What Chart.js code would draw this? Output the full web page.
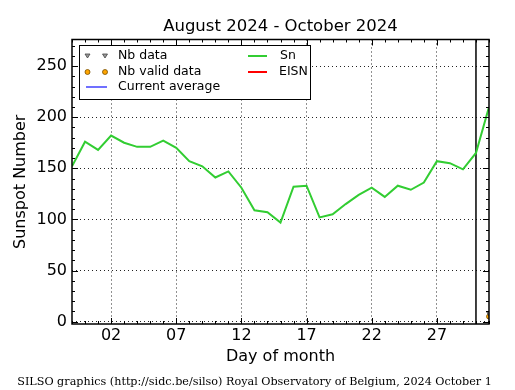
<!DOCTYPE html>
<html>
<head>
<meta charset="utf-8">
<script src="https://cdn.jsdelivr.net/npm/chart.js@4/dist/chart.umd.min.js"></script>
<style>html,body{margin:0;padding:0;background:#fff}</style>
</head>
<body>
<canvas id="myChart" width="515" height="390"></canvas>
<script>
'use strict'

// day of month (Sep 2024); -1 and 0 are Aug 30/31, 31 is Oct 1
const days = [-1, 0, 1, 2, 3, 4, 5, 6, 7, 8, 9, 10, 11, 12, 13, 14, 15, 16,
	17, 18, 19, 20, 21, 22, 23, 24, 25, 26, 27, 28, 29, 30, 31]
const sunspots = [152, 176, 168, 182, 175, 171, 171, 177, 170, 157, 152, 141, 147,
	131, 109, 107, 97, 132, 133, 102, 105, 115, 124, 131, 122, 133, 129, 136, 157,
	155, 149, 165, 210]
const nbDataDays = [31]
const nbData = [8]
const nbValidDays = [31]
const nbValid = [5]
const markerDay = 30
const xTicks = [2, 7, 12, 17, 22, 27]
const yTicks = [0, 50, 100, 150, 200, 250]
const yMin = -2.3
const yMax = 276

const FONT = "'DejaVu Sans', sans-serif"
const green = 'rgb(50,205,50)'

const framePlugin = {
	id: 'frame',
	afterDatasetsDraw(chart) {
		const ctx = chart.ctx
		const a = chart.chartArea
		const x = chart.scales.x
		const y = chart.scales.y
		ctx.save()
		ctx.strokeStyle = '#000'
		ctx.lineWidth = 1
		ctx.beginPath()
		for (let d = Math.ceil(x.min); d <= x.max; d++) {
			const px = Math.round(x.getPixelForValue(d)) + 0.5
			const len = xTicks.includes(d) ? 6 : 3
			ctx.moveTo(px, a.bottom); ctx.lineTo(px, a.bottom - len)
			ctx.moveTo(px, a.top); ctx.lineTo(px, a.top + len)
		}
		for (let v = 0; v <= y.max; v += 10) {
			const py = Math.round(y.getPixelForValue(v)) + 0.5
			const len = v % 50 == 0 ? 6 : 3
			ctx.moveTo(a.left, py); ctx.lineTo(a.left + len, py)
			ctx.moveTo(a.right, py); ctx.lineTo(a.right - len, py)
		}
		ctx.stroke()
		ctx.lineWidth = 1.5
		ctx.strokeRect(a.left, a.top, a.right - a.left, a.bottom - a.top)

		// title, centred over the plot
		ctx.fillStyle = '#000'
		ctx.font = '16.5px ' + FONT
		ctx.textAlign = 'center'
		ctx.textBaseline = 'middle'
		ctx.fillText('August 2024 - October 2024', (a.left + a.right) / 2, 27)

		// legend
		ctx.textAlign = 'left'
		ctx.fillStyle = '#fff'
		ctx.fillRect(79, 45, 232, 54)
		ctx.lineWidth = 1
		ctx.strokeRect(79.5, 45.5, 231, 54)
		ctx.font = '12.5px ' + FONT
		ctx.fillStyle = '#000'
		ctx.fillText('Nb data', 118, 56)
		ctx.fillText('Nb valid data', 118, 72)
		ctx.fillText('Current average', 118, 87)
		ctx.fillText('Sn', 280, 56)
		ctx.fillText('EISN', 279, 72)
		for (const tx of [87.5, 105]) {
			ctx.beginPath()
			ctx.moveTo(tx - 2.5, 54); ctx.lineTo(tx + 2.5, 54); ctx.lineTo(tx, 58)
			ctx.closePath()
			ctx.fillStyle = '#999'
			ctx.fill()
			ctx.strokeStyle = '#444'
			ctx.lineWidth = 0.8
			ctx.stroke()
			ctx.beginPath()
			ctx.arc(tx, 72, 2.5, 0, Math.PI * 2)
			ctx.fillStyle = 'orange'
			ctx.fill()
			ctx.strokeStyle = '#7a5000'
			ctx.stroke()
		}
		ctx.lineWidth = 2
		ctx.strokeStyle = '#7070ff'
		ctx.beginPath(); ctx.moveTo(86, 87); ctx.lineTo(107, 87); ctx.stroke()
		ctx.strokeStyle = green
		ctx.beginPath(); ctx.moveTo(248, 56); ctx.lineTo(267, 56); ctx.stroke()
		ctx.strokeStyle = 'red'
		ctx.beginPath(); ctx.moveTo(248, 72); ctx.lineTo(267, 72); ctx.stroke()

		// footer
		ctx.font = "11.2px 'DejaVu Serif', serif"
		ctx.fillStyle = '#000'
		ctx.textAlign = 'center'
		ctx.fillText('SILSO graphics (http://sidc.be/silso) Royal Observatory of Belgium, 2024 October 1', 254.5, 382)
		ctx.restore()
	}
}

const chartElement = document.querySelector('#myChart')
const chart = new Chart(chartElement, {
	type: 'line',
	data: {
		datasets: [
			{
				label: 'Sn',
				data: days.map((d, i) => ({ x: d, y: sunspots[i] })),
				borderColor: green,
				borderWidth: 2,
				pointRadius: 0,
				tension: 0
			},
			{
				label: 'marker',
				data: [{ x: markerDay, y: yMin }, { x: markerDay, y: yMax }],
				borderColor: '#000',
				borderWidth: 1.5,
				pointRadius: 0
			},
			{
				label: 'Nb data',
				data: nbDataDays.map((d, i) => ({ x: d, y: nbData[i] })),
				showLine: false,
				pointStyle: 'triangle',
				rotation: 180,
				pointRadius: 2.5,
				backgroundColor: '#999',
				borderColor: '#444',
				borderWidth: 0.8
			},
			{
				label: 'Nb valid data',
				data: nbValidDays.map((d, i) => ({ x: d, y: nbValid[i] })),
				showLine: false,
				pointRadius: 2.5,
				backgroundColor: 'orange',
				borderColor: '#7a5000',
				borderWidth: 0.8
			}
		]
	},
	options: {
		responsive: false,
		animation: false,
		layout: { padding: { left: 0, right: 26, top: 39.5, bottom: 0 } },
		plugins: {
			legend: { display: false },
			tooltip: { enabled: false },
			title: { display: false }
		},
		scales: {
			x: {
				type: 'linear',
				min: -1,
				max: 31,
				afterFit(scale) { scale.height = 66 },
				afterBuildTicks(scale) { scale.ticks = xTicks.map(v => ({ value: v })) },
				ticks: {
					color: '#000',
					font: { family: FONT, size: 16 },
					padding: 2.5,
					maxRotation: 0,
					callback: v => String(v).padStart(2, '0')
				},
				grid: { color: '#222', lineWidth: 1, drawTicks: false },
				border: { display: false, dash: [1, 3] },
				title: {
					display: true,
					text: 'Day of month',
					color: '#000',
					font: { family: FONT, size: 16 },
					padding: { top: 0, bottom: 23.5 }
				}
			},
			y: {
				min: yMin,
				max: yMax,
				afterFit(scale) { scale.width = 72 },
				afterBuildTicks(scale) { scale.ticks = yTicks.map(v => ({ value: v })) },
				ticks: {
					color: '#000',
					font: { family: FONT, size: 16 },
					padding: 5
				},
				grid: { color: '#222', lineWidth: 1, drawTicks: false },
				border: { display: false, dash: [1, 3] },
				title: {
					display: true,
					text: 'Sunspot Number',
					color: '#000',
					font: { family: FONT, size: 16 },
					padding: { top: 11, bottom: 0 }
				}
			}
		}
	},
	plugins: [framePlugin]
})
</script>
</body>
</html>
